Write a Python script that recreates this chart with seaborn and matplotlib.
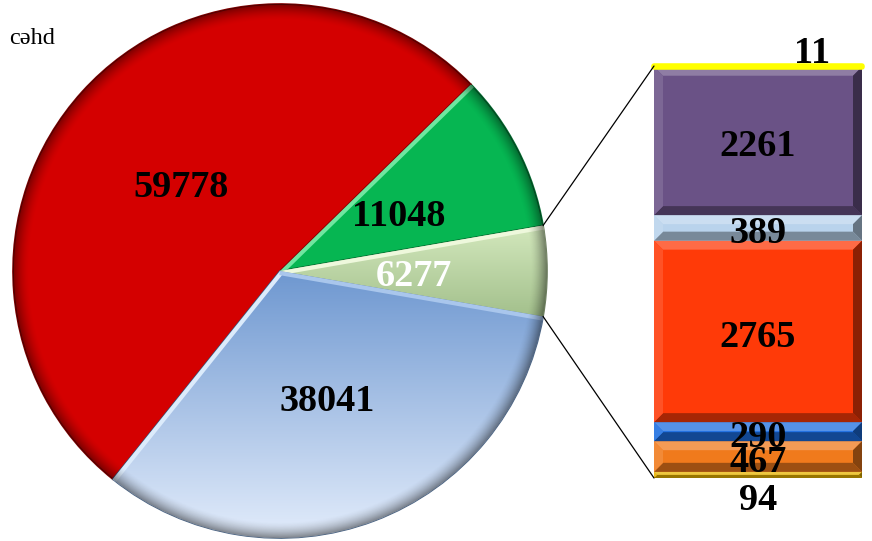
import numpy as np
import matplotlib
matplotlib.use("Agg")
import matplotlib.pyplot as plt
from matplotlib.patches import ConnectionPatch, Circle, Polygon
from matplotlib.colors import to_rgb
from matplotlib.transforms import offset_copy
import pandas as pd
import seaborn as sns

# Main pie: counter-clockwise order starting with the slice broken out into the column
pie_values = [6277, 11048, 59778, 38041]
pie_colors = ["#b2cf9c", "#06b652", "#d40000", "#7aa3d8"]
pie_text_colors = ["white", "black", "black", "black"]

# Breakdown of the 6277 slice, bottom to top
bar_values = [94, 467, 290, 2765, 389, 2261, 11]
bar_colors = ["#e8b400", "#f07a1c", "#1c6de0", "#ff3a08", "#b9d3ec", "#6a5286", "#ffff00"]

note_text = "cəhd"

sns.set_theme(style="white")
plt.rcParams["font.family"] = ["Liberation Serif", "DejaVu Serif"]
plt.rcParams["text.color"] = "black"

W, H = 872, 541
fig = plt.figure(figsize=(W / 100, H / 100), dpi=100)
fig.patch.set_facecolor("white")

ax_pie = fig.add_axes([12 / W, 3 / H, 536 / W, 534 / H])
ax_bar = fig.add_axes([654 / W, (H - 478) / H, 208 / W, 412 / H])

total = sum(pie_values)
first_span = 360.0 * pie_values[0] / total
start = -first_span / 2

label_font = dict(fontsize=27.5, fontweight="bold", color="black")
# Nudge the digits so that their visible body sits on the anchor point
LABEL_SHIFT = -6

wedges, texts = ax_pie.pie(
    pie_values,
    colors=pie_colors,
    startangle=start,
    counterclock=True,
    labels=[str(v) for v in pie_values],
    labeldistance=0.5,
    textprops=label_font,
    wedgeprops=dict(linewidth=1.2),
)
for w, c in zip(wedges, pie_colors):
    w.set_edgecolor(tuple(np.array(to_rgb(c)) * 0.6))
pie_text_tr = offset_copy(ax_pie.transData, fig=fig, y=LABEL_SHIFT, units="dots")
for t, c in zip(texts, pie_text_colors):
    t.set_color(c)
    t.set_ha("center")
    t.set_va("center")
    t.set_zorder(10)
    t.set_transform(pie_text_tr)

ax_pie.set_aspect("auto")
ax_pie.set_xlim(-1, 1)
ax_pie.set_ylim(-1, 1)
ax_pie.axis("off")

# Vertical gradient on the blue slice and soft shading on the light green one
yy, xx = np.mgrid[1:-1:500j, -1:1:500j]
rr = np.hypot(xx, yy)

def gradient_fill(wedge, top, bottom, y_top, y_bot):
    t = np.clip((y_top - yy) / (y_top - y_bot), 0, 1)[..., None]
    img = np.array(to_rgb(top)) * (1 - t) + np.array(to_rgb(bottom)) * t
    im = ax_pie.imshow(img, extent=(-1, 1, -1, 1), origin="upper",
                       zorder=wedge.get_zorder() + 0.1, interpolation="bilinear")
    im.set_clip_path(wedge)

gradient_fill(wedges[3], "#6893ce", "#e2ecfb", 0.05, -1.0)
gradient_fill(wedges[0], "#d3e8bd", "#a3c08c", 0.17, -0.17)

# Light bevel strips along the slice edges that face the upper left
def edge_highlight(wedge, angle_deg, color):
    th = np.deg2rad(angle_deg)
    ln, = ax_pie.plot([0, np.cos(th)], [0, np.sin(th)], color=color,
                      linewidth=6, solid_capstyle="butt", zorder=4)
    ln.set_clip_path(wedge)

edge_highlight(wedges[1], wedges[1].theta2, "#6fe6a0")
edge_highlight(wedges[0], wedges[0].theta2, "#eef8dc")
edge_highlight(wedges[3], wedges[3].theta1, "#dcebfb")
edge_highlight(wedges[3], wedges[3].theta2, "#a9c6ec")

# Darkened rim for a bevelled look
rim = np.zeros(rr.shape + (4,))
rim[..., 3] = 0.42 * np.clip((rr - 0.94) / 0.06, 0, 1) ** 1.6
rim_im = ax_pie.imshow(rim, extent=(-1, 1, -1, 1), origin="upper", zorder=5,
                       interpolation="bilinear")
rim_im.set_clip_path(Circle((0, 0), 1, transform=ax_pie.transData))

# Stacked breakdown column
df = pd.DataFrame({
    "group": ["x"] * len(bar_values),
    "value": bar_values,
    "bottom": np.concatenate([[0], np.cumsum(bar_values)[:-1]]),
})
for i, row in df.iterrows():
    sns.barplot(x=[row["group"]], y=[row["value"]], bottom=row["bottom"],
                color=bar_colors[i], saturation=1, width=1, ax=ax_bar,
                linewidth=0)

ax_bar.set_xlim(-0.5, 0.5)
ax_bar.set_ylim(0, sum(bar_values))
ax_bar.axis("off")

def mix(c, other, a):
    return tuple(np.array(to_rgb(c)) * (1 - a) + np.array(other) * a)

px_y = sum(bar_values) / 412.0
px_x = 1.0 / 208.0
for patch, c in zip(ax_bar.patches[:-1], bar_colors[:-1]):
    x0, y0 = patch.get_x(), patch.get_y()
    x1, y1 = x0 + patch.get_width(), y0 + patch.get_height()
    by = min(9 * px_y, (y1 - y0) / 2)
    bx = min(9 * px_x, by / px_y * px_x)
    pieces = [
        ([(x0, y1), (x1, y1), (x1 - bx, y1 - by), (x0 + bx, y1 - by)], mix(c, (1, 1, 1), 0.25)),
        ([(x0, y0), (x1, y0), (x1 - bx, y0 + by), (x0 + bx, y0 + by)], mix(c, (0, 0, 0), 0.35)),
        ([(x0, y0), (x0, y1), (x0 + bx, y1 - by), (x0 + bx, y0 + by)], mix(c, (1, 1, 1), 0.12)),
        ([(x1, y0), (x1, y1), (x1 - bx, y1 - by), (x1 - bx, y0 + by)], mix(c, (0, 0, 0), 0.45)),
    ]
    for pts, col in pieces:
        ax_bar.add_patch(Polygon(pts, closed=True, facecolor=col, edgecolor="none", zorder=3))

# Thin top segment drawn as a rounded yellow band
top_patch = ax_bar.patches[len(bar_values) - 1]
top_patch.set_edgecolor("#ffff00")
top_patch.set_linewidth(4)
top_patch.set_joinstyle("round")
top_patch.set_clip_on(False)
top_patch.set_zorder(4)

# Labels for the column
bar_text_tr = offset_copy(ax_bar.transData, fig=fig, y=LABEL_SHIFT, units="dots")
for i in range(1, len(bar_values) - 1):
    p = ax_bar.patches[i]
    ax_bar.text(0, p.get_y() + p.get_height() / 2, str(bar_values[i]),
                ha="center", va="center", zorder=10, transform=bar_text_tr,
                **label_font)

bottom_patch = ax_bar.patches[0]
ax_bar.annotate(str(bar_values[0]), xy=(0, bottom_patch.get_y()),
                xytext=(0, -22), textcoords="offset pixels",
                ha="center", va="center", annotation_clip=False, **label_font)
ax_bar.annotate(str(bar_values[-1]), xy=(0.26, sum(bar_values)),
                xytext=(0, 13), textcoords="offset pixels",
                ha="center", va="center", annotation_clip=False, **label_font)

# Connector lines from the small slice to the column
theta1, theta2 = np.deg2rad(wedges[0].theta1), np.deg2rad(wedges[0].theta2)
for th, ybar in [(theta2, sum(bar_values)), (theta1, 0)]:
    con = ConnectionPatch(xyA=(np.cos(th), np.sin(th)), coordsA=ax_pie.transData,
                          xyB=(-0.5, ybar), coordsB=ax_bar.transData,
                          color="black", linewidth=0.9, zorder=20)
    fig.add_artist(con)

fig.text(9 / W, 1 - 38 / H, note_text, fontsize=17.5, ha="left", va="center",
         color="black")

fig.savefig("out.png", dpi=100)
